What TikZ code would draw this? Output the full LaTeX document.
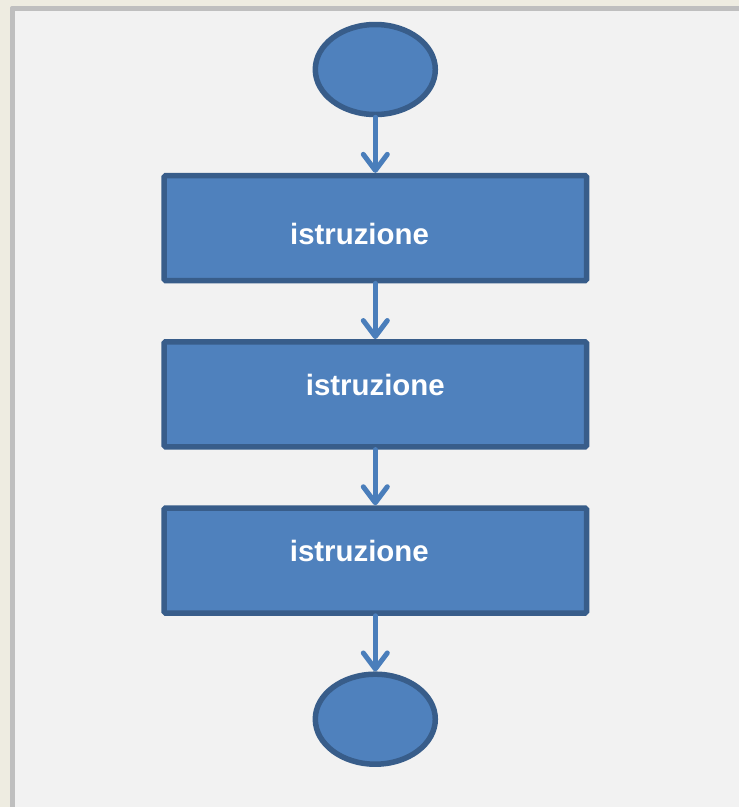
\documentclass[tikz,border=0pt]{standalone}
\usepackage{fontspec}
\setmainfont{Liberation Sans}
\usetikzlibrary{arrows.meta,shapes.geometric}
\definecolor{outerbg}{HTML}{EEECE1}
\definecolor{frameline}{HTML}{BFBFBF}
\definecolor{panelbg}{HTML}{F2F2F2}
\definecolor{shapefill}{HTML}{4F81BD}
\definecolor{shapeline}{HTML}{385D8A}
\definecolor{flowline}{HTML}{4A7EBB}
\begin{document}
\begin{tikzpicture}[x=1pt,y=-1pt,
  terminal/.style={ellipse, draw=shapeline, fill=shapefill, line width=5.5pt,
    minimum width=120pt, minimum height=90pt, inner sep=0pt},
  stepbox/.style={rectangle, draw=shapeline, fill=shapefill, line width=5.5pt,
    rounded corners=1.5pt, minimum width=422.5pt, minimum height=105pt, inner sep=0pt},
  steptext/.style={anchor=base, text=white, inner sep=0pt,
    font=\fontsize{29.4}{35}\selectfont\bfseries},
  flow/.style={draw=flowline, line width=5pt, line cap=round,
    -{Straight Barb[length=16pt, width=24pt, line cap=round, line join=round]}}
]
% page background and panel
\useasboundingbox (0,0) rectangle (739,807);
\fill[outerbg] (0,0) rectangle (739,807);
\fill[frameline, rounded corners=2pt] (10,6) rectangle (745,815);
\fill[panelbg] (15,11) rectangle (739,807);

% flowchart shapes
\node[terminal] (start) at (375.3,69.5) {};
\node[stepbox] (s1) at (375.3,228.1) {};
\node[stepbox] (s2) at (375.3,394.3) {};
\node[stepbox] (s3) at (375.3,560.5) {};
\node[terminal] (stop) at (375.3,719.2) {};

% labels
\node[steptext] (l1) at (359.5,244) {istruzione};
\node[steptext] (l2) at (375.3,395) {istruzione};
\node[steptext] (l3) at (359.3,561.7) {istruzione};

% connectors
\draw[flow] (start) -- (s1);
\draw[flow] (s1) -- (s2);
\draw[flow] (s2) -- (s3);
\draw[flow] (s3) -- (stop);
\end{tikzpicture}
\end{document}
